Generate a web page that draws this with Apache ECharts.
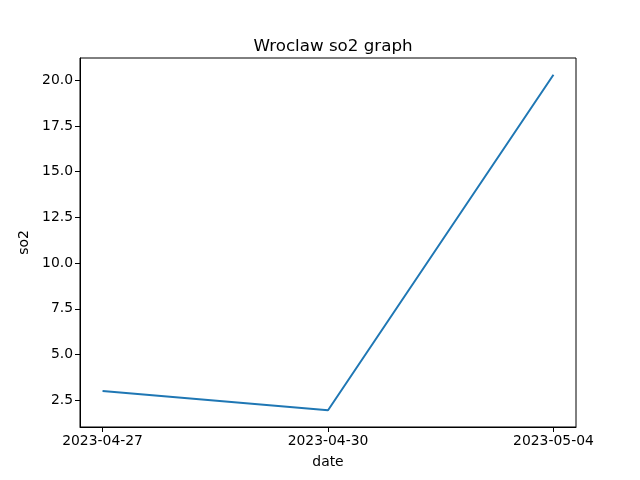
<!DOCTYPE html>
<html>
<head>
<meta charset="utf-8">
<script src="https://cdn.jsdelivr.net/npm/echarts@6/dist/echarts.min.js"></script>
<style>html,body{margin:0;padding:0;background:#fff}#chart{width:640px;height:480px}</style>
</head>
<body>
<div id="chart"></div>
<script>
var dates = ['2023-04-27', '2023-04-30', '2023-05-04'];
var so2 = [3.0, 1.95, 20.3];
var yTicks = [2.5, 5.0, 7.5, 10.0, 12.5, 15.0, 17.5, 20.0];

var chart = echarts.init(document.getElementById('chart'));
var font = 'DejaVu Sans';
chart.setOption({
  animation: false,
  title: {
    text: 'Wroclaw so2 graph', left: 328, top: 33, textAlign: 'center',
    textStyle: { fontFamily: font, fontSize: 16.7, fontWeight: 'normal', color: '#000' }
  },
  grid: { left: 80, right: 64, top: 58, bottom: 53, show: true, borderColor: '#000', borderWidth: 1 },
  xAxis: {
    type: 'value', min: -0.1, max: 2.1,
    name: 'date', nameLocation: 'middle', nameGap: 28,
    nameTextStyle: { fontFamily: font, fontSize: 13.9, color: '#000' },
    axisLine: { show: true, onZero: false, lineStyle: { color: '#000' } },
    splitLine: { show: false },
    axisTick: { show: true, length: 5, lineStyle: { color: '#000' }, customValues: [0, 1, 2] },
    axisLabel: {
      fontFamily: font, fontSize: 13.9, color: '#000', margin: 7,
      customValues: [0, 1, 2],
      formatter: function (v) { return dates[Math.round(v)]; }
    }
  },
  yAxis: {
    type: 'value', min: 1.03, max: 21.22,
    name: 'so2', nameLocation: 'middle', nameGap: 46,
    nameTextStyle: { fontFamily: font, fontSize: 13.9, color: '#000' },
    axisLine: { show: true, onZero: false, lineStyle: { color: '#000' } },
    splitLine: { show: false },
    axisTick: { show: true, length: 5, lineStyle: { color: '#000' }, customValues: yTicks },
    axisLabel: {
      fontFamily: font, fontSize: 13.9, color: '#000', margin: 7,
      customValues: yTicks,
      formatter: function (v) { return v.toFixed(1); }
    }
  },
  series: [{
    type: 'line',
    data: so2.map(function (v, i) { return [i, v]; }),
    showSymbol: false,
    lineStyle: { color: '#1f77b4', width: 2 }
  }]
});
</script>
</body>
</html>
